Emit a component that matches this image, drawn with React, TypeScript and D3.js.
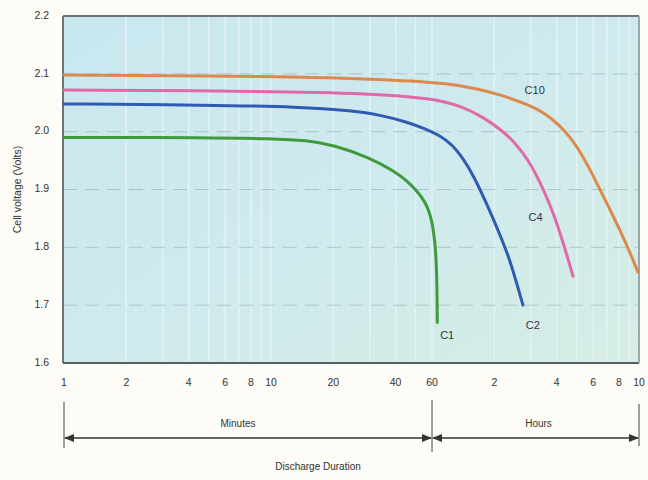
import React from "react";
import * as d3 from "d3";

const yTicks = [1.6, 1.7, 1.8, 1.9, 2.0, 2.1, 2.2];
const xTickValues = [1, 2, 4, 6, 8, 10, 20, 40, 60, 120, 240, 360, 480, 600];
const xTickLabels = ["1", "2", "4", "6", "8", "10", "20", "40", "60", "2", "4", "6", "8", "10"];
const gridX = [2, 3, 4, 5, 6, 7, 8, 9, 10, 20, 30, 40, 50, 60, 120, 180, 240, 300, 360, 420, 480, 540];

// minutes, volts
const c1: [number, number][] = [[1, 1.99], [5, 1.99], [10, 1.988], [15, 1.985], [20, 1.977], [30, 1.955], [40, 1.93], [45, 1.916], [50, 1.9], [56, 1.878], [60, 1.848], [62.5, 1.8], [63.4, 1.74], [63.6, 1.67], [63.6, 1.67]];
const c2: [number, number][] = [[1, 2.048], [5, 2.046], [13.8, 2.043], [25, 2.036], [33.6, 2.029], [45, 2.017], [55, 2.006], [65, 1.994], [75, 1.978], [85, 1.953], [95, 1.925], [114, 1.864], [130, 1.815], [143, 1.778], [165, 1.7], [165, 1.7]];
const c4: [number, number][] = [[1, 2.072], [10, 2.07], [30, 2.066], [60, 2.058], [85, 2.043], [106, 2.025], [130, 2.003], [154, 1.978], [175, 1.95], [190, 1.928], [210, 1.895], [230, 1.862], [260, 1.805], [288, 1.75], [288, 1.75]];
const c10: [number, number][] = [[1, 2.098], [10, 2.096], [40, 2.09], [73, 2.083], [100, 2.074], [128, 2.064], [178, 2.046], [215, 2.03], [249, 2.01], [280, 1.99], [311, 1.966], [350, 1.933], [388, 1.9], [435, 1.865], [485, 1.83], [540, 1.793], [593, 1.757], [593, 1.757]];

const seriesNames = ["C1", "C2", "C4", "C10"];
const seriesData = [c1, c2, c4, c10];
const seriesColors = ["#3f9a3c", "#2f5bb5", "#e06aa8", "#dc8a4c"];
const labelPos: [number, number][] = [[71, 1.646], [184, 1.664], [190, 1.85], [188, 2.07]];

const W = 648, H = 480;
const L = 63, R = 639, T = 16, B = 363;

export default function App() {
  const x = d3.scaleLog().domain([1, 600]).range([64, 639]);
  const y = d3.scaleLinear().domain([1.6, 2.2]).range([B, T]);
  const line = d3.line<[number, number]>()
    .x(d => x(d[0]))
    .y(d => y(d[1]))
    .curve(d3.curveBasis);
  const font = "Liberation Sans, Arial, sans-serif";
  const bracketY = 438;
  return (
    <svg width={W} height={H} style={{ position: "absolute", left: 0, top: 0, background: "#fdfcf7" }}>
      <defs>
        <linearGradient id="bg" x1="0" x2="1" y1="0" y2="1">
          <stop offset="0" stopColor="#c9e7ef" />
          <stop offset="0.5" stopColor="#cfeaee" />
          <stop offset="1" stopColor="#d5ede4" />
        </linearGradient>
        <marker id="arr" viewBox="0 0 10 10" refX="9" refY="5" markerWidth="7" markerHeight="7" orient="auto-start-reverse">
          <path d="M0,1 L10,5 L0,9 z" fill="#333" />
        </marker>
      </defs>
      <rect x={L} y={T} width={R - L} height={B - T} fill="url(#bg)" />
      {gridX.map(v => (
        <line key={v} x1={x(v)} x2={x(v)} y1={T} y2={B} stroke="#e6f3f7" strokeWidth={1.5} opacity={0.9} />
      ))}
      {yTicks.slice(1, -1).map(v => (
        <line key={v} x1={L} x2={R} y1={y(v)} y2={y(v)} stroke="#9fb6bf" strokeWidth={1} strokeDasharray="14,8" opacity={0.7} />
      ))}
      <line x1={L} x2={R} y1={T} y2={T} stroke="#6b7376" strokeWidth={2} />
      <line x1={L} x2={L} y1={T} y2={B} stroke="#6b7376" strokeWidth={2} />
      <line x1={L} x2={R} y1={B} y2={B} stroke="#55605f" strokeWidth={2} />
      <line x1={R} x2={R} y1={T} y2={B} stroke="#9aa6aa" strokeWidth={2} />
      {seriesData.map((s, i) => (
        <path key={seriesNames[i]} d={line(s) || ""} fill="none" stroke={seriesColors[i]} strokeWidth={3} strokeLinecap="round" />
      ))}
      {seriesNames.map((n, i) => (
        <text key={n} x={x(labelPos[i][0])} y={y(labelPos[i][1])} fontFamily={font} fontSize={11} fill="#334" textAnchor="middle" dominantBaseline="middle">{n}</text>
      ))}
      {yTicks.map(v => (
        <text key={v} x={49} y={y(v)} fontFamily={font} fontSize={10.5} fill="#333" textAnchor="end" dominantBaseline="middle">{v.toFixed(1)}</text>
      ))}
      <text transform={`translate(18,${(T + B) / 2}) rotate(-90)`} fontFamily={font} fontSize={10.5} fill="#333" textAnchor="middle" dominantBaseline="middle">Cell voltage (Volts)</text>
      {xTickValues.map((v, i) => (
        <text key={v} x={x(v)} y={383} fontFamily={font} fontSize={10.5} fill="#333" textAnchor="middle" dominantBaseline="middle">{xTickLabels[i]}</text>
      ))}
      <line x1={x(1)} x2={x(1)} y1={402} y2={448} stroke="#444" strokeWidth={1} />
      <line x1={x(60)} x2={x(60)} y1={400} y2={452} stroke="#444" strokeWidth={1} />
      <line x1={x(600)} x2={x(600)} y1={404} y2={446} stroke="#444" strokeWidth={1} />
      <line x1={x(1) + 1} x2={x(60) - 1} y1={bracketY} y2={bracketY} stroke="#333" strokeWidth={1.5} markerStart="url(#arr)" markerEnd="url(#arr)" />
      <line x1={x(60) + 1} x2={x(600) - 1} y1={bracketY} y2={bracketY} stroke="#333" strokeWidth={1.5} markerStart="url(#arr)" markerEnd="url(#arr)" />
      <text x={(x(1) + x(60)) / 2 - 10} y={424} fontFamily={font} fontSize={10} fill="#333" textAnchor="middle" dominantBaseline="middle">Minutes</text>
      <text x={(x(60) + x(600)) / 2 + 3} y={424} fontFamily={font} fontSize={10} fill="#333" textAnchor="middle" dominantBaseline="middle">Hours</text>
      <text x={318} y={467} fontFamily={font} fontSize={10} fill="#333" textAnchor="middle" dominantBaseline="middle">Discharge Duration</text>
    </svg>
  );
}
